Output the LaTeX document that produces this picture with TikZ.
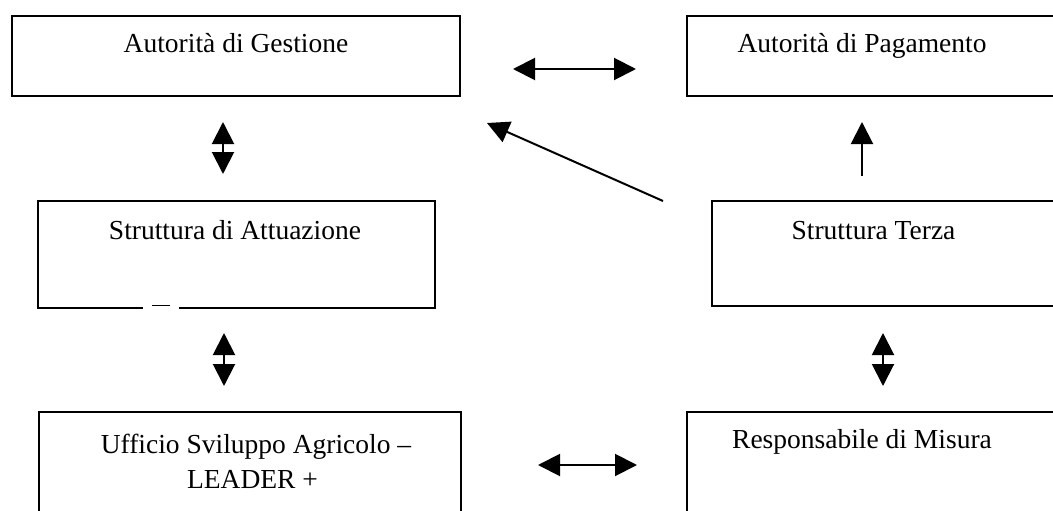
\documentclass[tikz,border=0pt]{standalone}
\usepackage{fontspec}
\setmainfont{Liberation Serif}
\usetikzlibrary{arrows.meta}
\tikzset{
  boxframe/.style={draw=black, line width=2pt, fill=none},
  lbl/.style={font=\fontsize{27.5}{33}\selectfont, inner sep=0pt, anchor=base},
  conn/.style={line width=2pt, draw=black},
  tipboth/.style={conn, {Triangle[length=22pt,width=22pt]}-{Triangle[length=22pt,width=22pt]}},
  tipend/.style={conn, -{Triangle[length=22pt,width=22pt]}}
}
\begin{document}
\begin{tikzpicture}[x=1pt,y=-1pt]
\clip (0,0) rectangle (1053,511);
\fill[white] (0,0) rectangle (1053,511);
% boxes
\draw[boxframe] (11.7,16) rectangle (460,96);
\draw[boxframe] (687,16) rectangle (1070,96);
\draw[boxframe] (38,201) rectangle (435,307.5);
\draw[boxframe] (712,201) rectangle (1070,306);
\draw[boxframe] (39,412) rectangle (461,530);
\draw[boxframe] (687,412) rectangle (1070,530);
% glitch on bottom edge of Struttura di Attuazione
\draw[white, line width=3pt] (143,307.5) -- (179,307.5);
\draw[black, line width=1.5pt] (152,305.5) -- (170,305.5);
% labels
\node[lbl] (ag) at (236,53) {Autorità di Gestione};
\node[lbl] (ap) at (862,53) {Autorità di Pagamento};
\node[lbl] (sa) at (235,239) {Struttura di Attuazione};
\node[lbl] (st) at (873.5,239) {Struttura Terza};
\node[lbl] (us1) at (256,453) {Ufficio Sviluppo Agricolo –};
\node[lbl] (us2) at (252.5,488) {LEADER +};
\node[lbl] (rm) at (862,448) {Responsabile di Misura};
% connector end points
\coordinate (h1a) at (513,69);  \coordinate (h1b) at (636,69);
\coordinate (v1a) at (223,122); \coordinate (v1b) at (223,174);
\coordinate (upa) at (862,176); \coordinate (upb) at (862,122);
\coordinate (dga) at (663,201); \coordinate (dgb) at (487,123);
\coordinate (v2a) at (224,333); \coordinate (v2b) at (224,386);
\coordinate (v3a) at (883,333); \coordinate (v3b) at (883,386);
\coordinate (h2a) at (538,465); \coordinate (h2b) at (637,465);
% connectors
\draw[tipboth] (h1a) -- (h1b);
\draw[tipboth] (v1a) -- (v1b);
\draw[tipend] (upa) -- (upb);
\draw[tipend] (dga) -- (dgb);
\draw[tipboth] (v2a) -- (v2b);
\draw[tipboth] (v3a) -- (v3b);
\draw[tipboth] (h2a) -- (h2b);
\end{tikzpicture}
\end{document}
